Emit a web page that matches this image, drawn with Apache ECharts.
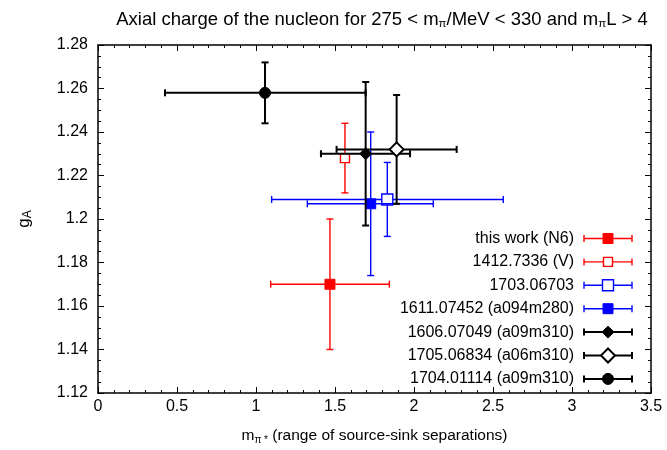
<!DOCTYPE html>
<html>
<head>
<meta charset="utf-8">
<script src="https://cdn.jsdelivr.net/npm/echarts@6/dist/echarts.min.js"></script>
<style>
  html, body { margin: 0; padding: 0; background: #fff; }
  #chart { width: 667px; height: 450px; }
</style>
</head>
<body>
<div id="chart"></div>
<script>
// g_A determinations, each with the range of source-sink separations (in units of 1/m_pi)
const labels = [
  'this work (N6)',
  '1412.7336 (V)',
  '1703.06703',
  '1611.07452 (a094m280)',
  '1606.07049 (a09m310)',
  '1705.06834 (a06m310)',
  '1704.01114 (a09m310)'
];
const xCentre = [1.468, 1.563, 1.831, 1.726, 1.694, 1.890, 1.057];
const xLow    = [1.093, null,  1.099, 1.325, 1.411, 1.510, 0.424];
const xHigh   = [1.844, null,  2.565, 2.122, 1.975, 2.270, 1.694];
const gA      = [1.170, 1.228, 1.209, 1.207, 1.230, 1.232, 1.258];
const gALow   = [1.140, 1.212, 1.192, 1.174, 1.197, 1.207, 1.244];
const gAHigh  = [1.200, 1.244, 1.226, 1.240, 1.263, 1.257, 1.272];

const xTicks = [0, 0.5, 1, 1.5, 2, 2.5, 3, 3.5];
const yTicks = [1.12, 1.14, 1.16, 1.18, 1.2, 1.22, 1.24, 1.26, 1.28];

// marker / bar appearance for each entry
const looks = [
  { color: '#ff0000', lw: 1.4, shape: 'square',  size: 10, filled: true  },
  { color: '#ff0000', lw: 1.4, shape: 'square',  size: 9,  filled: false },
  { color: '#0000ff', lw: 1.4, shape: 'square',  size: 11, filled: false },
  { color: '#0000ff', lw: 1.4, shape: 'square',  size: 10, filled: true  },
  { color: '#000000', lw: 2,   shape: 'diamond', size: 12, filled: true  },
  { color: '#000000', lw: 2,   shape: 'diamond', size: 14, filled: false },
  { color: '#000000', lw: 2,   shape: 'circle',  size: 11, filled: true  }
];

const FONT = 'Liberation Sans, Arial, Helvetica, sans-serif';
const CAP = 3.5;

function marker(look, cx, cy) {
  const h = look.size / 2;
  const style = look.filled
    ? { fill: look.color, stroke: look.color, lineWidth: 1 }
    : { fill: '#fff', stroke: look.color, lineWidth: look.lw };
  if (look.shape === 'square') {
    return { type: 'rect', shape: { x: cx - h, y: cy - h, width: 2 * h, height: 2 * h }, style };
  }
  if (look.shape === 'diamond') {
    return { type: 'polygon', shape: { points: [[cx, cy - h], [cx + h, cy], [cx, cy + h], [cx - h, cy]] }, style };
  }
  return { type: 'circle', shape: { cx, cy, r: h }, style };
}

function seg(x1, y1, x2, y2, look) {
  return { type: 'line', shape: { x1, y1, x2, y2 }, style: { stroke: look.color, lineWidth: look.lw } };
}

function drawPoint(k, api) {
  const look = looks[k];
  const c = api.coord([xCentre[k], gA[k]]);
  const top = api.coord([xCentre[k], gAHigh[k]]);
  const bot = api.coord([xCentre[k], gALow[k]]);
  const kids = [
    seg(c[0], top[1], c[0], bot[1], look),
    seg(c[0] - CAP, top[1], c[0] + CAP, top[1], look),
    seg(c[0] - CAP, bot[1], c[0] + CAP, bot[1], look)
  ];
  if (xLow[k] != null) {
    const l = api.coord([xLow[k], gA[k]]);
    const r = api.coord([xHigh[k], gA[k]]);
    kids.push(seg(l[0], c[1], r[0], c[1], look));
    kids.push(seg(l[0], c[1] - CAP, l[0], c[1] + CAP, look));
    kids.push(seg(r[0], c[1] - CAP, r[0], c[1] + CAP, look));
  }
  kids.push(marker(look, c[0], c[1]));
  return { type: 'group', children: kids };
}

// key at the lower right: text right-aligned, then a sample error bar with its marker
const legendGraphics = [];
labels.forEach((name, k) => {
  const look = looks[k];
  const y = 238.5 + k * 23.4;
  const x1 = 584, x2 = 632, xm = 608;
  legendGraphics.push({
    type: 'text', x: 574, y: y,
    style: { text: name, fill: '#000', font: '16px ' + FONT, textAlign: 'right', textVerticalAlign: 'middle' }
  });
  legendGraphics.push(seg(x1, y, x2, y, look));
  legendGraphics.push(seg(x1, y - CAP, x1, y + CAP, look));
  legendGraphics.push(seg(x2, y - CAP, x2, y + CAP, look));
  legendGraphics.push(marker(look, xm, y));
});

const axisCommon = {
  type: 'value',
  axisLine: { show: true, onZero: false, lineStyle: { color: '#000', width: 1.5 } },
  axisTick: { show: true, inside: true, length: 6, lineStyle: { color: '#000', width: 1 } },
  minorTick: { show: true, length: 3, lineStyle: { color: '#000', width: 1 } },
  splitLine: { show: false }
};

const chart = echarts.init(document.getElementById('chart'), null, { renderer: 'canvas' });
chart.setOption({
  animation: false,
  backgroundColor: '#fff',
  title: {
    text: 'Axial charge of the nucleon for 275 < m{s|π}/MeV < 330 and m{s|π}L > 4',
    left: 377, top: 4, textAlign: 'center',
    textStyle: {
      fontFamily: FONT, fontSize: 18.5, fontWeight: 'normal', color: '#000',
      rich: { s: { fontFamily: FONT, fontSize: 11.5, padding: [9, 0, 0, 0], color: '#000' } }
    }
  },
  grid: { left: 98, right: 16, top: 45, bottom: 53, containLabel: false },
  xAxis: [
    Object.assign({}, axisCommon, {
      position: 'bottom',
      min: xTicks[0], max: xTicks[xTicks.length - 1], interval: xTicks[1] - xTicks[0],
      minorTick: Object.assign({}, axisCommon.minorTick, { splitNumber: 5 }),
      axisLabel: { color: '#000', fontFamily: FONT, fontSize: 16, margin: 6 },
      name: 'm{s|π *} (range of source-sink separations)',
      nameLocation: 'middle', nameGap: 34,
      nameTextStyle: {
        color: '#000', fontFamily: FONT, fontSize: 15.5,
        rich: { s: { fontFamily: FONT, fontSize: 10, padding: [8, 0, 0, 0], color: '#000' } }
      }
    }),
    Object.assign({}, axisCommon, {
      position: 'top',
      min: xTicks[0], max: xTicks[xTicks.length - 1], interval: xTicks[1] - xTicks[0],
      minorTick: Object.assign({}, axisCommon.minorTick, { splitNumber: 5 }),
      axisLabel: { show: false }
    })
  ],
  yAxis: [
    Object.assign({}, axisCommon, {
      position: 'left',
      min: yTicks[0], max: yTicks[yTicks.length - 1], interval: 0.02,
      minorTick: Object.assign({}, axisCommon.minorTick, { splitNumber: 4 }),
      axisLabel: { color: '#000', fontFamily: FONT, fontSize: 16, margin: 10 },
      name: 'g{s|A}',
      nameLocation: 'middle', nameGap: 64, nameRotate: 90,
      nameTextStyle: {
        color: '#000', fontFamily: FONT, fontSize: 17,
        rich: { s: { fontFamily: FONT, fontSize: 12, padding: [8, 0, 0, 0], color: '#000' } }
      }
    }),
    Object.assign({}, axisCommon, {
      position: 'right',
      min: yTicks[0], max: yTicks[yTicks.length - 1], interval: 0.02,
      minorTick: Object.assign({}, axisCommon.minorTick, { splitNumber: 4 }),
      axisLabel: { show: false }
    })
  ],
  series: labels.map((name, k) => ({
    name: name,
    type: 'custom',
    xAxisIndex: 0, yAxisIndex: 0,
    clip: false,
    data: [[xCentre[k], gA[k]]],
    renderItem: (params, api) => drawPoint(k, api),
    z: 2 + k
  })),
  graphic: legendGraphics.map(g => Object.assign({ z: 100 }, g))
});
</script>
</body>
</html>
